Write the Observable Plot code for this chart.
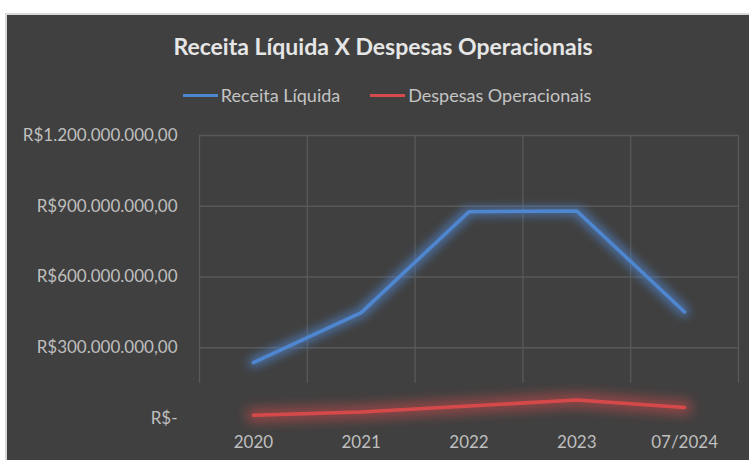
<!DOCTYPE html>
<html><head><meta charset="utf-8">
<script src="https://cdn.jsdelivr.net/npm/d3@7"></script>
<script src="https://cdn.jsdelivr.net/npm/@observablehq/plot@0.6"></script>
<style>
body{margin:0;background:#fff;width:749px;height:460px;overflow:hidden;position:relative;font-family:Lato,sans-serif}
#frame{position:absolute;left:5px;top:13px;width:760px;height:470px;background:#404040;border-top:2px solid #d9d9d9;border-left:2px solid #d9d9d9;box-sizing:border-box}
#title{position:absolute;left:6px;width:754px;top:31px;text-align:center;color:#e6e6e6;font-weight:bold;font-size:23px;line-height:30px}
#legend{position:absolute;left:6px;width:762px;top:83px;display:flex;justify-content:center;align-items:center;color:#c4c4c4;font-size:18px;line-height:24px}
.item{display:flex;align-items:center;margin:0 15px}
.sw{display:inline-block;width:35px;height:3px;margin-right:3px}
#chart{position:absolute;left:0;top:0}
</style></head>
<body>
<div id="frame"></div>
<div id="title">Receita Líquida X Despesas Operacionais</div>
<div id="legend"></div>
<div id="chart"></div>
<script>
const categories = ["2020", "2021", "2022", "2023", "07/2024"];
const receitaLiquida = [237e6, 449e6, 877e6, 880e6, 452e6];
const despesasOperacionais = [14e6, 28e6, 53e6, 78e6, 47e6];
const yTicks = [0, 300e6, 600e6, 900e6, 1200e6];
const seriesNames = ["Receita Líquida", "Despesas Operacionais"];
const seriesColors = ["#4f86d0", "#d64a4b"];

const locale = d3.formatLocale({decimal: ",", thousands: ".", grouping: [3], currency: ["R$", ""]});
const money = locale.format("$,.2f");
const fmtY = v => v === 0 ? "R$-" : money(v);

const rows = [];
categories.forEach((c, i) => {
  rows.push({i, serie: seriesNames[0], v: receitaLiquida[i]});
  rows.push({i, serie: seriesNames[1], v: despesasOperacionais[i]});
});

const legend = document.getElementById("legend");
seriesNames.forEach((n, k) => {
  const it = document.createElement("div"); it.className = "item";
  const sw = document.createElement("span"); sw.className = "sw"; sw.style.background = seriesColors[k];
  const t = document.createElement("span"); t.textContent = n;
  it.appendChild(sw); it.appendChild(t); legend.appendChild(it);
});

const idx = d3.range(categories.length);
const bounds = d3.range(categories.length + 1).map(i => i - 0.5);

const chart = Plot.plot({
  width: 749, height: 460,
  marginLeft: 199, marginRight: 11, marginTop: 135, marginBottom: 42,
  style: {background: "transparent", color: "#bfbfbf", fontSize: "17px", fontFamily: "Lato, sans-serif"},
  x: {domain: [-0.5, categories.length - 0.5], ticks: idx, tickFormat: i => categories[i], tickSize: 0, tickPadding: 17, label: null},
  y: {domain: [0, 1200e6], ticks: yTicks, tickFormat: fmtY, tickSize: 0, tickPadding: 22, label: null},
  marks: [
    Plot.ruleY(yTicks.slice(1), {stroke: "#595959", strokeWidth: 1.3}),
    Plot.ruleX(bounds, {y1: 150e6, y2: 1200e6, stroke: "#595959", strokeWidth: 1.3}),
    Plot.line(rows.filter(d => d.serie === seriesNames[0]), {x: "i", y: "v", stroke: seriesColors[0], strokeWidth: 3.5, strokeLinejoin: "miter"}),
    Plot.line(rows.filter(d => d.serie === seriesNames[1]), {x: "i", y: "v", stroke: seriesColors[1], strokeWidth: 3.5, strokeLinejoin: "miter"})
  ]
});
document.getElementById("chart").appendChild(chart);

// glow effect via SVG filters
const svgNS = "http://www.w3.org/2000/svg";
const defs = document.createElementNS(svgNS, "defs");
function makeGlow(id, color, dilate, blur, op) {
  const f = document.createElementNS(svgNS, "filter");
  f.setAttribute("id", id);
  f.setAttribute("filterUnits", "userSpaceOnUse");
  f.setAttribute("x", "0"); f.setAttribute("y", "0");
  f.setAttribute("width", "749"); f.setAttribute("height", "460");
  f.innerHTML =
    `<feMorphology in="SourceAlpha" operator="dilate" radius="${dilate}" result="d"/>` +
    `<feGaussianBlur in="d" stdDeviation="${blur}" result="b"/>` +
    `<feFlood flood-color="${color}" flood-opacity="${op}"/>` +
    `<feComposite in2="b" operator="in" result="g"/>` +
    `<feMerge><feMergeNode in="g"/><feMergeNode in="SourceGraphic"/></feMerge>`;
  defs.appendChild(f);
}
makeGlow("glow0", seriesColors[0], 2.5, 4.5, 0.6);
makeGlow("glow1", seriesColors[1], 4.5, 6, 0.55);
chart.insertBefore(defs, chart.firstChild);
const lines = chart.querySelectorAll('g[aria-label="line"]');
lines.forEach((g, k) => g.setAttribute("filter", `url(#glow${k})`));
</script>
</body></html>
